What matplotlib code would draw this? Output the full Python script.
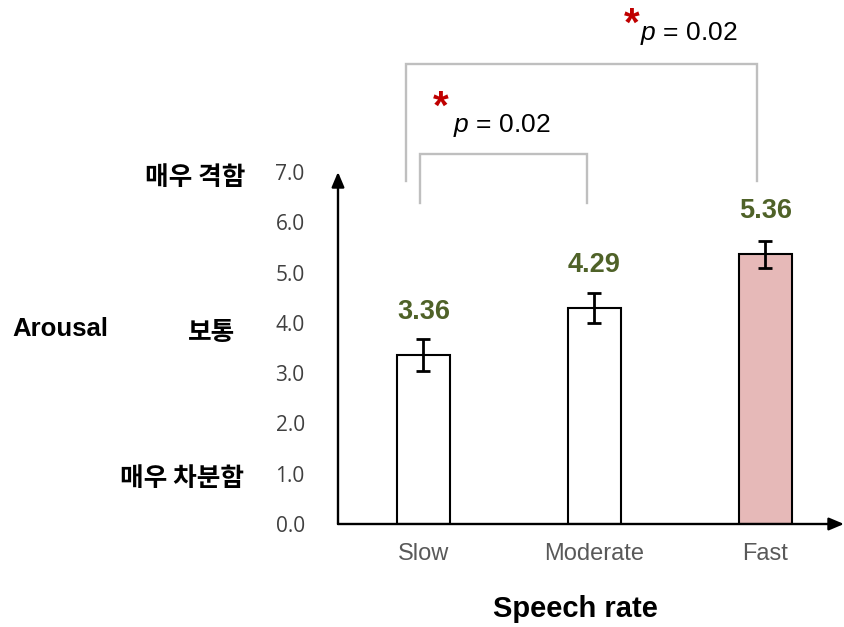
import matplotlib
matplotlib.use("Agg")
import matplotlib.pyplot as plt
from matplotlib.patches import FancyArrowPatch
from matplotlib.transforms import blended_transform_factory

plt.rcParams["font.family"] = ["Liberation Sans", "Noto Sans CJK KR", "DejaVu Sans"]
plt.rcParams["mathtext.fontset"] = "custom"
plt.rcParams["mathtext.rm"] = "Liberation Sans"
plt.rcParams["mathtext.it"] = "Liberation Sans:italic"

# Mean arousal ratings per speech rate, with error bars
categories = ["Slow", "Moderate", "Fast"]
means = [3.36, 4.29, 5.36]
errors = [0.32, 0.30, 0.26]
bar_colors = ["white", "white", "#e6b9b8"]

y_ticks = [0, 1, 2, 3, 4, 5, 6, 7]
y_tick_labels = ["0.0", "1.0", "2.0", "3.0", "4.0", "5.0", "6.0", "7.0"]

# Verbal anchors of the rating scale
anchor_values = [7.0, 4.0, 1.0]
anchor_labels = ["매우 격함", "보통", "매우 차분함"]

# Pairwise comparisons (first bar, second bar, p value)
comparisons = [(0, 1, "0.02"), (0, 2, "0.02")]

value_color = "#4f6228"
bracket_color = "#bfbfbf"
star_color = "#c00000"

fig = plt.figure(figsize=(8.44, 6.27), dpi=100)
ax = fig.add_axes([338 / 844, 103 / 627, 506 / 844, 352 / 627])

x = list(range(len(categories)))
ax.bar(x, means, width=0.313, color=bar_colors, edgecolor="black",
       linewidth=1.5, zorder=2)
ax.errorbar(x, means, yerr=errors, fmt="none", ecolor="black",
            elinewidth=2.0, capsize=4.8, capthick=2.0, zorder=3)

for xi, m in zip(x, means):
    ax.text(xi, m + 0.72, f"{m:.2f}", ha="center", va="baseline",
            fontsize=19.5, fontweight="bold", color=value_color)

ax.set_xlim(-0.5, 2.46)
ax.set_ylim(0, 7)
ax.set_xticks(x)
ax.set_xticklabels(categories, fontsize=17, color="#595959")
ax.set_yticks(y_ticks)
ax.set_yticklabels(y_tick_labels, fontsize=15, color="#404040",
                   family=["Open Sans", "DejaVu Sans"])
ax.tick_params(axis="x", length=0, pad=14)
ax.tick_params(axis="y", length=0, pad=24)
for s in ax.spines.values():
    s.set_visible(False)

# Axis lines with arrow heads
for end in [(1.0, 0.0), (0.0, 1.0)]:
    arr = FancyArrowPatch((0, 0), end, transform=ax.transAxes,
                          arrowstyle="-|>,head_length=9,head_width=3.8",
                          mutation_scale=1, color="black", linewidth=1.7,
                          shrinkA=0, shrinkB=0, clip_on=False, zorder=4)
    ax.add_patch(arr)

# Significance brackets
bracket_geom = {
    (0, 1): dict(left=-0.02, right=-0.045, low_l=6.38, low_r=6.38, top=7.36,
                 star=(0.102, 8.27), text=(0.173, 7.79)),
    (0, 2): dict(left=-0.10, right=-0.05, low_l=6.83, low_r=6.83, top=9.15,
                 star=(1.219, 9.93), text=(1.266, 9.63)),
}
for i, j, p in comparisons:
    g = bracket_geom[(i, j)]
    xl = x[i] + g["left"]
    xr = x[j] + g["right"]
    ax.plot([xl, xl, xr, xr], [g["low_l"], g["top"], g["top"], g["low_r"]],
            color=bracket_color, linewidth=1.7, clip_on=False, zorder=1,
            solid_joinstyle="miter")
    ax.text(g["star"][0], g["star"][1], "*", ha="center", va="center",
            fontsize=29, fontweight="bold", color=star_color, clip_on=False)
    ax.text(g["text"][0], g["text"][1], rf"$p$ = {p}", ha="left",
            va="baseline", fontsize=19, color="black", clip_on=False)

# Scale anchors beside the tick labels
anchor_tf = blended_transform_factory(fig.transFigure, ax.transData)
anchor_right = [245 / 844, 235 / 844, 244 / 844]
anchor_shift = [-0.1, -0.19, -0.09]
for v, lab, xr, dy in zip(anchor_values, anchor_labels, anchor_right, anchor_shift):
    ax.text(xr, v + dy, lab, transform=anchor_tf, ha="right", va="center",
            fontsize=18.5, fontweight="bold", color="black",
            family=["Noto Sans CJK KR", "DejaVu Sans"])

ax.text(12 / 844, 3.73, "Arousal", transform=anchor_tf, ha="left",
        va="baseline", fontsize=18.5, fontweight="bold", color="black")

fig.text(575 / 844, 10 / 627, "Speech rate", ha="center", va="baseline",
         fontsize=21, fontweight="bold", color="black")

fig.savefig("out.png", dpi=100)
